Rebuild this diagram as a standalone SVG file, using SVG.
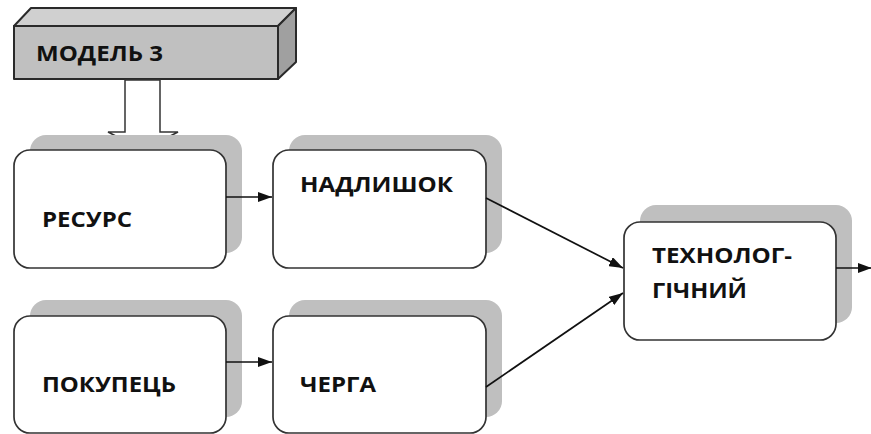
<svg xmlns="http://www.w3.org/2000/svg" width="871" height="434" viewBox="0 0 871 434">
<style>
.box{fill:#fff;stroke:#333;stroke-width:1.7}
.shadow{fill:#bfbfbf}
.lbl{font-family:"Open Sans","Liberation Sans",sans-serif;font-weight:bold;font-size:21px;fill:#111}
.conn{stroke:#111;stroke-width:1.7;fill:none}
.solid{stroke:#2a2a2a;stroke-width:2;stroke-linejoin:round}
</style>
<defs>
<marker id="ah" viewBox="0 0 14 10" refX="14" refY="5" markerWidth="14" markerHeight="10" markerUnits="userSpaceOnUse" orient="auto">
<path d="M0,0 L14,5 L0,10 Z" fill="#111"/>
</marker>
</defs>
<rect width="871" height="434" fill="#fff"/>
<g id="model3">
<polygon class="solid" points="14,26 31,8 296,8 278,26" fill="#d0d0d0"/>
<polygon class="solid" points="278,26 296,8 296,62 278,79" fill="#a0a0a0"/>
<rect class="solid" x="14" y="26" width="264" height="53" fill="#c0c0c0"/>
<text class="lbl" x="36" y="61" font-size="24" textLength="127" lengthAdjust="spacingAndGlyphs">МОДЕЛЬ 3</text>
</g>
<g id="bigarrow">
<polygon points="125,80 160,80 160,132 178,132 143,150 108,132 125,132" fill="#fff" stroke="#333" stroke-width="1.5"/>
</g>
<g id="resurs">
<rect class="shadow" x="30" y="135" width="212" height="118" rx="16"/>
<rect class="box" x="14" y="150" width="212" height="118" rx="16"/>
<text class="lbl" x="42" y="227" textLength="90" lengthAdjust="spacingAndGlyphs">РЕСУРС</text>
</g>
<g id="nadlyshok">
<rect class="shadow" x="289" y="135" width="213" height="118" rx="16"/>
<rect class="box" x="273" y="150" width="213" height="118" rx="16"/>
<text class="lbl" x="300" y="192" textLength="153" lengthAdjust="spacingAndGlyphs">НАДЛИШОК</text>
</g>
<g id="pokupets">
<rect class="shadow" x="30" y="300" width="212" height="117" rx="16"/>
<rect class="box" x="14" y="316" width="212" height="117" rx="16"/>
<text class="lbl" x="42" y="392" textLength="134" lengthAdjust="spacingAndGlyphs">ПОКУПЕЦЬ</text>
</g>
<g id="cherga">
<rect class="shadow" x="289" y="300" width="213" height="117" rx="16"/>
<rect class="box" x="273" y="316" width="213" height="117" rx="16"/>
<text class="lbl" x="300" y="392" textLength="76" lengthAdjust="spacingAndGlyphs">ЧЕРГА</text>
</g>
<g id="tekhnolog">
<rect class="shadow" x="640" y="205" width="212" height="118" rx="16"/>
<rect class="box" x="624" y="222" width="212" height="118" rx="16"/>
<text class="lbl" x="652" y="263" textLength="140" lengthAdjust="spacingAndGlyphs">ТЕХНОЛОГ-</text>
<text class="lbl" x="652" y="298" textLength="95" lengthAdjust="spacingAndGlyphs">ГІЧНИЙ</text>
</g>
<g id="connectors">
<line class="conn" x1="226" y1="197" x2="272" y2="197" marker-end="url(#ah)"/>
<line class="conn" x1="226" y1="362" x2="272" y2="362" marker-end="url(#ah)"/>
<line class="conn" x1="486" y1="198" x2="623" y2="268" marker-end="url(#ah)"/>
<line class="conn" x1="486" y1="387" x2="623" y2="293" marker-end="url(#ah)"/>
<line class="conn" x1="836" y1="268" x2="872" y2="268" marker-end="url(#ah)"/>
</g>
</svg>
